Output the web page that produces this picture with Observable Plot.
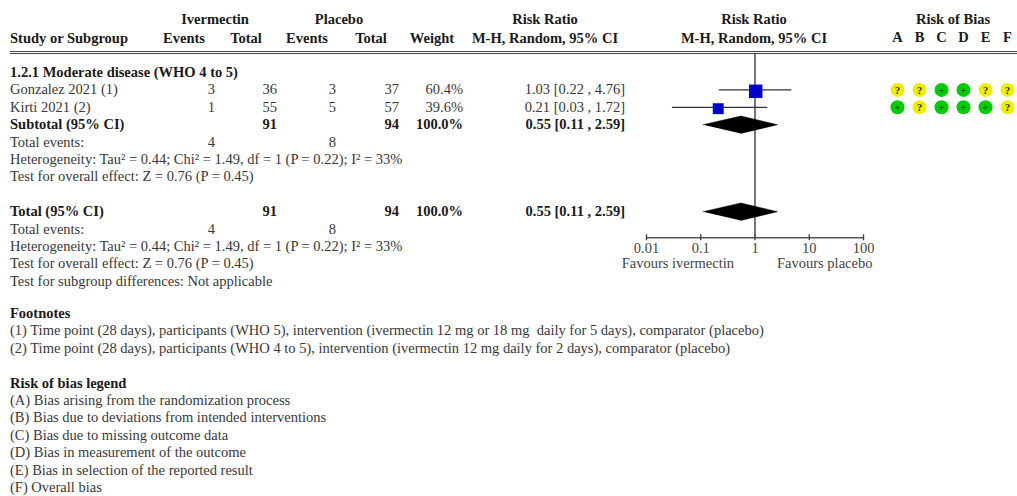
<!DOCTYPE html>
<html>
<head>
<meta charset="utf-8">
<script src="https://cdn.jsdelivr.net/npm/d3@7"></script>
<script src="https://cdn.jsdelivr.net/npm/@observablehq/plot@0.6"></script>
<style>
  html, body { margin: 0; padding: 0; background: #fff; }
  #page { position: relative; width: 1017px; height: 496px; overflow: hidden;
          font-family: "Liberation Serif", "Times New Roman", serif; font-size: 14.5px; color: #383838; }
  .t { position: absolute; line-height: 16px; white-space: pre; }
  .b { font-weight: bold; color: #1a1a1a; }
  .rule { position: absolute; left: 10px; right: 0; top: 51px; height: 0; border-top: 3px double #444; }
  #page svg { position: absolute; left: 0; top: 0; }
</style>
</head>
<body>
<div id="page"></div>
<script>
// ---- data ----
const studies    = ["Gonzalez 2021 (1)", "Kirti 2021 (2)"];
const ivmEvents  = [3, 1];
const ivmTotal   = [36, 55];
const pboEvents  = [3, 5];
const pboTotal   = [37, 57];
const weights    = [60.4, 39.6];
const rr         = [1.03, 0.21];
const rrLow      = [0.22, 0.03];
const rrHigh     = [4.76, 1.72];

const pooledRR   = 0.55;
const pooledLow  = 0.11;
const pooledHigh = 2.59;

const subgroupTitle = "1.2.1 Moderate disease (WHO 4 to 5)";
const heterogeneity = "Heterogeneity: Tau\u00B2 = 0.44; Chi\u00B2 = 1.49, df = 1 (P = 0.22); I\u00B2 = 33%";
const overallEffect = "Test for overall effect: Z = 0.76 (P = 0.45)";
const subgroupDiff  = "Test for subgroup differences: Not applicable";

const axisTicks = [0.01, 0.1, 1, 10, 100];
const favoursLeft  = "Favours ivermectin";
const favoursRight = "Favours placebo";

const robDomains  = ["A", "B", "C", "D", "E", "F"];
const robGonzalez = ["?", "?", "+", "+", "?", "?"];
const robKirti    = ["+", "?", "+", "+", "+", "?"];

const footnotes = [
  "(1) Time point (28 days), participants (WHO 5), intervention (ivermectin 12 mg or 18 mg  daily for 5 days), comparator (placebo)",
  "(2) Time point (28 days), participants (WHO 4 to 5), intervention (ivermectin 12 mg daily for 2 days), comparator (placebo)"
];
const robLegend = [
  "(A) Bias arising from the randomization process",
  "(B) Bias due to deviations from intended interventions",
  "(C) Bias due to missing outcome data",
  "(D) Bias in measurement of the outcome",
  "(E) Bias in selection of the reported result",
  "(F) Overall bias"
];

// ---- layout ----
const page = document.getElementById("page");
const row0 = 72, rowH = 17.4;
const rowY = k => row0 + rowH * k;
const head1 = 18.5, head2 = 37.5;

const col = {
  study: 10, ivmEv: 215, ivmTot: 277, pboEv: 336, pboTot: 399, weight: 463, rrText: 625
};

function put(txt, x, y, align = "left", bold = false) {
  const s = document.createElement("div");
  s.className = "t" + (bold ? " b" : "");
  s.textContent = txt;
  s.style.left = x + "px";
  s.style.top = (y - 8) + "px";
  if (align === "center") s.style.transform = "translateX(-50%)";
  if (align === "right") s.style.transform = "translateX(-100%)";
  page.append(s);
}
const fmtCI = (m, l, h) => `${m.toFixed(2)} [${l.toFixed(2)} , ${h.toFixed(2)}]`;

// column headers
put("Ivermectin", 215, head1, "center", true);
put("Placebo", 339, head1, "center", true);
put("Risk Ratio", 545, head1, "center", true);
put("Risk Ratio", 754, head1, "center", true);
put("Risk of Bias", 953, head1, "center", true);
put("Study or Subgroup", col.study, head2, "left", true);
put("Events", 184, head2, "center", true);
put("Total", 246, head2, "center", true);
put("Events", 307, head2, "center", true);
put("Total", 371, head2, "center", true);
put("Weight", 432, head2, "center", true);
put("M-H, Random, 95% CI", 545, head2, "center", true);
put("M-H, Random, 95% CI", 754, head2, "center", true);
const rule = document.createElement("div");
rule.className = "rule";
page.append(rule);

// study rows
put(subgroupTitle, col.study, rowY(0), "left", true);
studies.forEach((s, i) => {
  const y = rowY(1 + i);
  put(s, col.study, y);
  put(String(ivmEvents[i]), col.ivmEv, y, "right");
  put(String(ivmTotal[i]), col.ivmTot, y, "right");
  put(String(pboEvents[i]), col.pboEv, y, "right");
  put(String(pboTotal[i]), col.pboTot, y, "right");
  put(weights[i].toFixed(1) + "%", col.weight, y, "right");
  put(fmtCI(rr[i], rrLow[i], rrHigh[i]), col.rrText, y, "right");
});

// pooled blocks (subtotal and total)
function pooledBlock(label, k, withSubgroupTest) {
  const y = rowY(k);
  put(label, col.study, y, "left", true);
  put(String(d3.sum(ivmTotal)), col.ivmTot, y, "right", true);
  put(String(d3.sum(pboTotal)), col.pboTot, y, "right", true);
  put(d3.sum(weights).toFixed(1) + "%", col.weight, y, "right", true);
  put(fmtCI(pooledRR, pooledLow, pooledHigh), col.rrText, y, "right", true);
  put("Total events:", col.study, rowY(k + 1));
  put(String(d3.sum(ivmEvents)), col.ivmEv, rowY(k + 1), "right");
  put(String(d3.sum(pboEvents)), col.pboEv, rowY(k + 1), "right");
  put(heterogeneity, col.study, rowY(k + 2));
  put(overallEffect, col.study, rowY(k + 3));
  if (withSubgroupTest) put(subgroupDiff, col.study, rowY(k + 4));
}
pooledBlock("Subtotal (95% CI)", 3, false);
pooledBlock("Total (95% CI)", 8, true);

// footnotes and legend
const foot0 = 313;
put("Footnotes", col.study, foot0, "left", true);
footnotes.forEach((f, i) => put(f, col.study, foot0 + rowH * (1 + i)));
put("Risk of bias legend", col.study, foot0 + rowH * 4, "left", true);
robLegend.forEach((f, i) => put(f, col.study, foot0 + rowH * (5 + i)));

// ---- forest plot ----
const axisRow = 9.5;
const studyRows = studies.map((s, i) => ({
  study: s, row: 1 + i, rr: rr[i], lo: rrLow[i], hi: rrHigh[i], w: weights[i]
}));
const half = 0.5;
const diamonds = [3, 8].flatMap(row => [
  {row, x: pooledLow,  y: row},
  {row, x: pooledRR,   y: row - half},
  {row, x: pooledHigh, y: row},
  {row, x: pooledRR,   y: row + half}
]);

const yScale = {domain: [0, 12], range: [rowY(0), rowY(12)], axis: null};

const forest = Plot.plot({
  width: 1017, height: 496,
  marginTop: 0, marginRight: 0, marginBottom: 0, marginLeft: 0,
  style: {background: "transparent", overflow: "visible", fontFamily: "Liberation Serif, serif", fontSize: "14.5px"},
  x: {type: "log", domain: [0.01, 100], range: [646, 863], axis: null},
  y: yScale,
  r: {type: "sqrt", domain: [0, d3.max(weights)], range: [0, 7.6]},
  marks: [
    // axis line, ticks and labels
    Plot.ruleY([axisRow], {x1: 0.01, x2: 100, stroke: "#555", strokeWidth: 1.6}),
    Plot.ruleX(axisTicks, {x: d => d, y1: axisRow - 0.17, y2: axisRow + 0.17, stroke: "#444", strokeWidth: 1.4}),
    Plot.text(axisTicks, {x: d => d, y: axisRow, dy: 11, text: d => String(d), fill: "#444"}),
    Plot.text([favoursLeft], {x: 1, y: axisRow, dx: -21, dy: 25.5, textAnchor: "end", text: d => d, fill: "#444"}),
    Plot.text([favoursRight], {x: 1, y: axisRow, dx: 22, dy: 25.5, textAnchor: "start", text: d => d, fill: "#444"}),
    // line of no effect
    Plot.ruleX([1], {y1: -1.1, y2: axisRow, stroke: "#555", strokeWidth: 1.6}),
    // study confidence intervals and point estimates
    Plot.ruleY(studyRows, {y: "row", x1: "lo", x2: "hi", stroke: "#333", strokeWidth: 1.3}),
    Plot.dot(studyRows, {x: "rr", y: d => d.row + 0.08, r: "w", symbol: "square", fill: "#0000cc", stroke: "none"}),
    // pooled estimates
    Plot.line(diamonds, {x: "x", y: "y", z: "row", fill: "black", stroke: "black", strokeWidth: 0.5})
  ]
});
page.append(forest);

// ---- risk of bias ----
const rob = [
  ...robGonzalez.map((j, i) => ({row: 1, domain: robDomains[i], j})),
  ...robKirti.map((j, i) => ({row: 2, domain: robDomains[i], j}))
];
const robChart = Plot.plot({
  width: 1017, height: 496,
  marginTop: 0, marginRight: 0, marginBottom: 0, marginLeft: 0,
  style: {background: "transparent", overflow: "visible", fontFamily: "Liberation Serif, serif"},
  x: {type: "point", domain: robDomains, range: [895, 1008], padding: 0, axis: null},
  y: yScale,
  color: {domain: ["+", "?"], range: ["#00cc00", "#eeee00"]},
  marks: [
    Plot.text(robDomains, {x: d => d, y: -2, text: d => d, fontWeight: "bold", fontSize: 14.5, fill: "#1a1a1a"}),
    Plot.dot(rob, {x: "domain", y: "row", r: 7, fill: "j", stroke: "none"}),
    Plot.text(rob, {x: "domain", y: "row", text: "j", fontSize: 11, fontWeight: "bold", fill: "#333", dy: 0.5})
  ]
});
page.append(robChart);
</script>
</body>
</html>
